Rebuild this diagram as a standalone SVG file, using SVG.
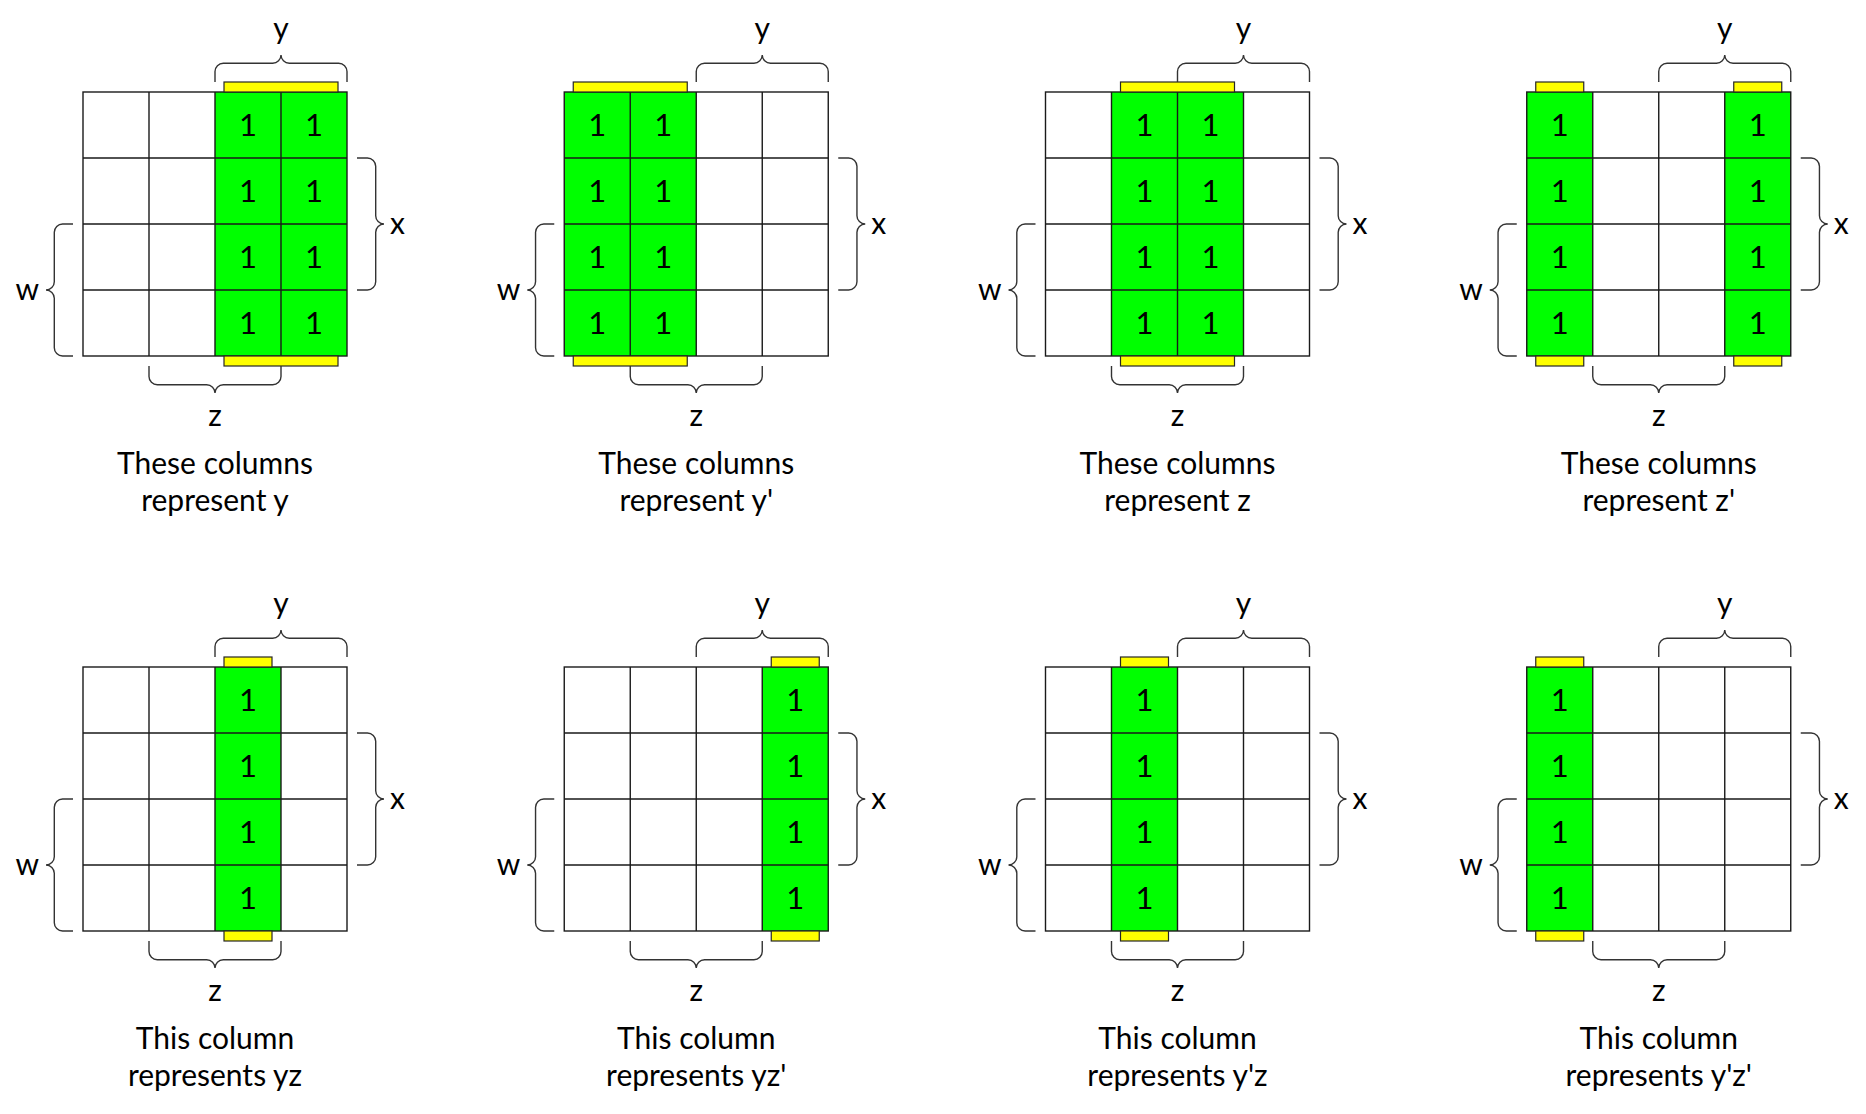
<svg xmlns="http://www.w3.org/2000/svg" xmlns:xlink="http://www.w3.org/1999/xlink" width="1866" height="1114" viewBox="0 0 1866 1114">
<style>
  .bg{fill:#ffffff}
  .grid{fill:none;stroke:#1a1a1a;stroke-width:1.4}
  .on{fill:#00ff00}
  .bar{fill:#ffff00;stroke:#262626;stroke-width:1.2}
  .brace{fill:none;stroke:#333333;stroke-width:1.4}
  text{font-family:Lato,"Noto Sans","Liberation Sans",sans-serif;font-size:30px;fill:#000}
  .one{font-size:31px}
  .mid{text-anchor:middle}
  .end{text-anchor:end}
</style>
<defs>
  <g id="gridlines">
    <rect class="grid" x="0" y="0" width="264" height="264"/>
    <path class="grid" d="M66,0V264M132,0V264M198,0V264M0,66H264M0,132H264M0,198H264"/>
  </g>
  <path id="braceY" class="brace" d="M132,-10V-20.4A8.3,8.3 0 0 1 140.3,-28.7H189.7A8.3,8.3 0 0 0 198,-37A8.3,8.3 0 0 0 206.3,-28.7H255.7A8.3,8.3 0 0 1 264,-20.4V-10"/>
  <path id="braceZ" class="brace" d="M66,274V284.4A8.3,8.3 0 0 0 74.3,292.7H123.7A8.3,8.3 0 0 1 132,301A8.3,8.3 0 0 1 140.3,292.7H189.7A8.3,8.3 0 0 0 198,284.4V274"/>
  <path id="braceX" class="brace" d="M274,66H284.4A8.3,8.3 0 0 1 292.7,74.3V123.7A8.3,8.3 0 0 0 301,132A8.3,8.3 0 0 0 292.7,140.3V189.7A8.3,8.3 0 0 1 284.4,198H274"/>
  <path id="braceW" class="brace" d="M-10,132H-20.4A8.3,8.3 0 0 0 -28.7,140.3V189.7A8.3,8.3 0 0 1 -37,198A8.3,8.3 0 0 1 -28.7,206.3V255.7A8.3,8.3 0 0 0 -20.4,264H-10"/>
</defs>

<g id="panel1" transform="translate(83,92)">
  <rect class="bg" x="0" y="0" width="264" height="264"/>
  <rect class="on" x="132" y="0" width="132" height="264"/>
  <use xlink:href="#gridlines"/>
  <rect class="bar" x="141" y="-10" width="114" height="10"/>
  <rect class="bar" x="141" y="264" width="114" height="10"/>
  <use xlink:href="#braceY"/><use xlink:href="#braceZ"/><use xlink:href="#braceX"/><use xlink:href="#braceW"/>
  <text class="mid one" x="165" y="44">1</text><text class="mid one" x="231" y="44">1</text>
  <text class="mid one" x="165" y="110">1</text><text class="mid one" x="231" y="110">1</text>
  <text class="mid one" x="165" y="176">1</text><text class="mid one" x="231" y="176">1</text>
  <text class="mid one" x="165" y="242">1</text><text class="mid one" x="231" y="242">1</text>
  <text class="mid" x="198" y="-53">y</text>
  <text x="307" y="142">x</text>
  <text class="end" x="-44" y="208">w</text>
  <text class="mid" x="132" y="334">z</text>
  <text class="mid" x="132" y="382">These columns</text>
  <text class="mid" x="132" y="419">represent y</text>
</g>

<g id="panel2" transform="translate(564.25,92)">
  <rect class="bg" x="0" y="0" width="264" height="264"/>
  <rect class="on" x="0" y="0" width="132" height="264"/>
  <use xlink:href="#gridlines"/>
  <rect class="bar" x="9" y="-10" width="114" height="10"/>
  <rect class="bar" x="9" y="264" width="114" height="10"/>
  <use xlink:href="#braceY"/><use xlink:href="#braceZ"/><use xlink:href="#braceX"/><use xlink:href="#braceW"/>
  <text class="mid one" x="33" y="44">1</text><text class="mid one" x="99" y="44">1</text>
  <text class="mid one" x="33" y="110">1</text><text class="mid one" x="99" y="110">1</text>
  <text class="mid one" x="33" y="176">1</text><text class="mid one" x="99" y="176">1</text>
  <text class="mid one" x="33" y="242">1</text><text class="mid one" x="99" y="242">1</text>
  <text class="mid" x="198" y="-53">y</text>
  <text x="307" y="142">x</text>
  <text class="end" x="-44" y="208">w</text>
  <text class="mid" x="132" y="334">z</text>
  <text class="mid" x="132" y="382">These columns</text>
  <text class="mid" x="132" y="419">represent y'</text>
</g>

<g id="panel3" transform="translate(1045.5,92)">
  <rect class="bg" x="0" y="0" width="264" height="264"/>
  <rect class="on" x="66" y="0" width="132" height="264"/>
  <use xlink:href="#gridlines"/>
  <rect class="bar" x="75" y="-10" width="114" height="10"/>
  <rect class="bar" x="75" y="264" width="114" height="10"/>
  <use xlink:href="#braceY"/><use xlink:href="#braceZ"/><use xlink:href="#braceX"/><use xlink:href="#braceW"/>
  <text class="mid one" x="99" y="44">1</text><text class="mid one" x="165" y="44">1</text>
  <text class="mid one" x="99" y="110">1</text><text class="mid one" x="165" y="110">1</text>
  <text class="mid one" x="99" y="176">1</text><text class="mid one" x="165" y="176">1</text>
  <text class="mid one" x="99" y="242">1</text><text class="mid one" x="165" y="242">1</text>
  <text class="mid" x="198" y="-53">y</text>
  <text x="307" y="142">x</text>
  <text class="end" x="-44" y="208">w</text>
  <text class="mid" x="132" y="334">z</text>
  <text class="mid" x="132" y="382">These columns</text>
  <text class="mid" x="132" y="419">represent z</text>
</g>

<g id="panel4" transform="translate(1526.75,92)">
  <rect class="bg" x="0" y="0" width="264" height="264"/>
  <rect class="on" x="0" y="0" width="66" height="264"/>
  <rect class="on" x="198" y="0" width="66" height="264"/>
  <use xlink:href="#gridlines"/>
  <rect class="bar" x="9" y="-10" width="48" height="10"/>
  <rect class="bar" x="207" y="-10" width="48" height="10"/>
  <rect class="bar" x="9" y="264" width="48" height="10"/>
  <rect class="bar" x="207" y="264" width="48" height="10"/>
  <use xlink:href="#braceY"/><use xlink:href="#braceZ"/><use xlink:href="#braceX"/><use xlink:href="#braceW"/>
  <text class="mid one" x="33" y="44">1</text><text class="mid one" x="231" y="44">1</text>
  <text class="mid one" x="33" y="110">1</text><text class="mid one" x="231" y="110">1</text>
  <text class="mid one" x="33" y="176">1</text><text class="mid one" x="231" y="176">1</text>
  <text class="mid one" x="33" y="242">1</text><text class="mid one" x="231" y="242">1</text>
  <text class="mid" x="198" y="-53">y</text>
  <text x="307" y="142">x</text>
  <text class="end" x="-44" y="208">w</text>
  <text class="mid" x="132" y="334">z</text>
  <text class="mid" x="132" y="382">These columns</text>
  <text class="mid" x="132" y="419">represent z'</text>
</g>

<g id="panel5" transform="translate(83,667)">
  <rect class="bg" x="0" y="0" width="264" height="264"/>
  <rect class="on" x="132" y="0" width="66" height="264"/>
  <use xlink:href="#gridlines"/>
  <rect class="bar" x="141" y="-10" width="48" height="10"/>
  <rect class="bar" x="141" y="264" width="48" height="10"/>
  <use xlink:href="#braceY"/><use xlink:href="#braceZ"/><use xlink:href="#braceX"/><use xlink:href="#braceW"/>
  <text class="mid one" x="165" y="44">1</text>
  <text class="mid one" x="165" y="110">1</text>
  <text class="mid one" x="165" y="176">1</text>
  <text class="mid one" x="165" y="242">1</text>
  <text class="mid" x="198" y="-53">y</text>
  <text x="307" y="142">x</text>
  <text class="end" x="-44" y="208">w</text>
  <text class="mid" x="132" y="334">z</text>
  <text class="mid" x="132" y="382">This column</text>
  <text class="mid" x="132" y="419">represents yz</text>
</g>

<g id="panel6" transform="translate(564.25,667)">
  <rect class="bg" x="0" y="0" width="264" height="264"/>
  <rect class="on" x="198" y="0" width="66" height="264"/>
  <use xlink:href="#gridlines"/>
  <rect class="bar" x="207" y="-10" width="48" height="10"/>
  <rect class="bar" x="207" y="264" width="48" height="10"/>
  <use xlink:href="#braceY"/><use xlink:href="#braceZ"/><use xlink:href="#braceX"/><use xlink:href="#braceW"/>
  <text class="mid one" x="231" y="44">1</text>
  <text class="mid one" x="231" y="110">1</text>
  <text class="mid one" x="231" y="176">1</text>
  <text class="mid one" x="231" y="242">1</text>
  <text class="mid" x="198" y="-53">y</text>
  <text x="307" y="142">x</text>
  <text class="end" x="-44" y="208">w</text>
  <text class="mid" x="132" y="334">z</text>
  <text class="mid" x="132" y="382">This column</text>
  <text class="mid" x="132" y="419">represents yz'</text>
</g>

<g id="panel7" transform="translate(1045.5,667)">
  <rect class="bg" x="0" y="0" width="264" height="264"/>
  <rect class="on" x="66" y="0" width="66" height="264"/>
  <use xlink:href="#gridlines"/>
  <rect class="bar" x="75" y="-10" width="48" height="10"/>
  <rect class="bar" x="75" y="264" width="48" height="10"/>
  <use xlink:href="#braceY"/><use xlink:href="#braceZ"/><use xlink:href="#braceX"/><use xlink:href="#braceW"/>
  <text class="mid one" x="99" y="44">1</text>
  <text class="mid one" x="99" y="110">1</text>
  <text class="mid one" x="99" y="176">1</text>
  <text class="mid one" x="99" y="242">1</text>
  <text class="mid" x="198" y="-53">y</text>
  <text x="307" y="142">x</text>
  <text class="end" x="-44" y="208">w</text>
  <text class="mid" x="132" y="334">z</text>
  <text class="mid" x="132" y="382">This column</text>
  <text class="mid" x="132" y="419">represents y'z</text>
</g>

<g id="panel8" transform="translate(1526.75,667)">
  <rect class="bg" x="0" y="0" width="264" height="264"/>
  <rect class="on" x="0" y="0" width="66" height="264"/>
  <use xlink:href="#gridlines"/>
  <rect class="bar" x="9" y="-10" width="48" height="10"/>
  <rect class="bar" x="9" y="264" width="48" height="10"/>
  <use xlink:href="#braceY"/><use xlink:href="#braceZ"/><use xlink:href="#braceX"/><use xlink:href="#braceW"/>
  <text class="mid one" x="33" y="44">1</text>
  <text class="mid one" x="33" y="110">1</text>
  <text class="mid one" x="33" y="176">1</text>
  <text class="mid one" x="33" y="242">1</text>
  <text class="mid" x="198" y="-53">y</text>
  <text x="307" y="142">x</text>
  <text class="end" x="-44" y="208">w</text>
  <text class="mid" x="132" y="334">z</text>
  <text class="mid" x="132" y="382">This column</text>
  <text class="mid" x="132" y="419">represents y'z'</text>
</g>
</svg>
